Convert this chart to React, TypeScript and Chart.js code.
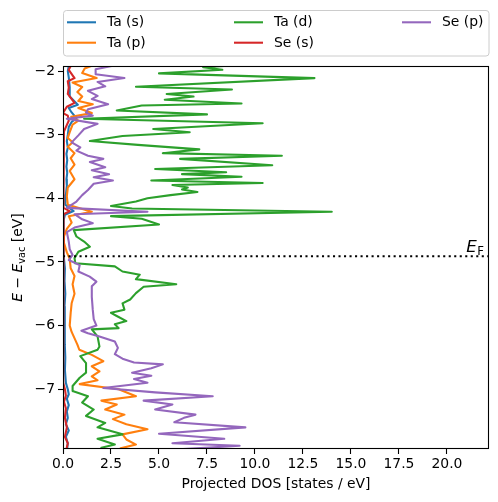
import React, { useEffect, useRef } from "react";
import { Chart, registerables } from "chart.js";

Chart.register(...registerables);

// ---- data (energy in eV, projected DOS in states/eV) ----
const taSEnergy = [-1.88, -1.92, -2.0, -2.1, -2.25, -2.4, -2.53, -2.58, -2.65, -2.74, -2.8, -2.88, -3.0, -3.1, -3.2, -3.3, -3.4, -3.5, -3.6, -3.7, -3.8, -3.95, -4.1, -4.2, -4.26, -4.35, -4.6, -4.9, -5.1, -5.3, -5.5, -5.7, -5.9, -6.1, -6.3, -6.5, -6.7, -6.9, -7.0, -7.08, -7.15, -7.25, -7.35, -7.45, -7.55, -7.65, -7.75, -7.85, -7.98];
const taSDos = [0.3, 0.3, 0.25, 0.3, 0.35, 0.35, 0.77, 0.3, 0.45, 0.7, 0.45, 0.3, 0.25, 0.2, 0.25, 0.18, 0.22, 0.18, 0.22, 0.18, 0.2, 0.15, 0.12, 0.55, 0.1, 0.03, 0.02, 0.05, 0.1, 0.08, 0.12, 0.08, 0.1, 0.08, 0.1, 0.12, 0.1, 0.15, 0.25, 0.3, 0.2, 0.3, 0.2, 0.25, 0.15, 0.3, 0.15, 0.25, 0.2];

const taPEnergy = [-1.88, -1.915, -1.96, -2.03, -2.11, -2.18, -2.25, -2.33, -2.4, -2.47, -2.52, -2.58, -2.66, -2.72, -2.78, -2.84, -2.96, -3.05, -3.12, -3.19, -3.29, -3.37, -3.47, -3.57, -3.7, -3.83, -3.97, -4.1, -4.21, -4.28, -4.38, -4.48, -4.6, -4.7, -4.85, -4.95, -5.1, -5.22, -5.35, -5.5, -5.65, -5.8, -6.0, -6.1, -6.3, -6.38, -6.46, -6.56, -6.64, -6.72, -6.8, -6.86, -6.92, -7.0, -7.11, -7.18, -7.24, -7.32, -7.4, -7.47, -7.55, -7.63, -7.71, -7.79, -7.87, -7.93, -7.98];
const taPDos = [1.3, 1.5, 1.13, 1.0, 1.75, 0.5, 1.0, 0.75, 1.0, 0.8, 1.55, 0.8, 1.5, 0.43, 0.8, 0.5, 0.35, 0.25, 0.5, 0.25, 0.6, 0.4, 0.6, 0.35, 0.6, 0.25, 0.2, 0.25, 1.5, 0.3, 0.45, 0.2, 0.05, 0.05, 0.2, 0.35, 0.4, 0.6, 0.5, 0.6, 0.45, 0.4, 0.35, 0.45, 0.75, 0.85, 1.5, 2.1, 1.5, 1.9, 1.5, 1.8, 0.87, 2.9, 3.8, 2.0, 2.8, 2.2, 3.2, 2.6, 3.3, 4.4, 3.1, 3.3, 3.8, 3.0, 3.5];

const taDEnergy = [-1.88, -1.915, -1.94, -1.98, -2.036, -2.11, -2.245, -2.29, -2.36, -2.4, -2.45, -2.51, -2.54, -2.62, -2.68, -2.75, -2.82, -2.91, -2.96, -3.02, -3.1, -3.16, -3.23, -3.29, -3.33, -3.38, -3.48, -3.54, -3.59, -3.62, -3.66, -3.72, -3.76, -3.79, -3.83, -3.86, -3.9, -3.95, -4.0, -4.05, -4.12, -4.16, -4.21, -4.28, -4.32, -4.41, -4.5, -4.6, -4.68, -4.76, -4.84, -4.94, -5.02, -5.07, -5.15, -5.2, -5.27, -5.35, -5.39, -5.49, -5.59, -5.65, -5.75, -5.8, -5.85, -5.93, -5.98, -6.04, -6.06, -6.17, -6.33, -6.38, -6.48, -6.59, -6.74, -6.82, -6.95, -7.03, -7.11, -7.21, -7.32, -7.42, -7.53, -7.6, -7.71, -7.78, -7.87, -7.92, -7.98];
const taDDos = [8.8, 8.6, 7.3, 8.3, 5.0, 13.1, 3.8, 8.8, 5.4, 6.8, 5.3, 9.3, 4.1, 2.8, 7.5, 1.1, 10.4, 4.7, 6.6, 3.1, 1.4, 3.9, 7.1, 5.2, 11.4, 6.1, 10.9, 4.8, 8.5, 6.2, 9.3, 4.6, 10.4, 5.7, 6.5, 6.2, 7.0, 5.6, 4.4, 3.8, 2.5, 3.6, 14.0, 2.5, 4.1, 5.0, 0.56, 0.7, 1.1, 1.4, 0.8, 0.6, 0.64, 2.7, 3.1, 4.0, 3.8, 5.9, 4.2, 3.8, 3.5, 3.1, 3.2, 2.5, 2.8, 3.3, 2.7, 2.9, 1.5, 1.8, 1.9, 1.8, 0.9, 1.2, 1.2, 0.87, 0.5, 0.5, 1.3, 1.0, 1.6, 1.2, 2.2, 1.8, 3.1, 1.8, 2.7, 2.0, 2.5];

const seSEnergy = [-1.88, -1.92, -1.98, -2.11, -2.16, -2.26, -2.36, -2.5, -2.56, -2.66, -2.7, -2.78, -2.88, -2.95, -3.1, -3.5, -4.0, -4.15, -4.2, -4.25, -4.5, -5.0, -6.0, -6.9, -7.0, -7.1, -7.2, -7.3, -7.45, -7.6, -7.75, -7.85, -7.98];
const seSDos = [0.4, 0.4, 0.3, 0.6, 0.25, 0.3, 0.25, 0.6, 0.2, 0.0, 0.25, 0.3, 0.15, 0.05, 0.03, 0.02, 0.02, 0.03, 0.35, 0.03, 0.01, 0.01, 0.01, 0.02, 0.1, 0.15, 0.05, 0.15, 0.1, 0.2, 0.1, 0.25, 0.15];

const sePEnergy = [-1.88, -1.915, -1.97, -2.05, -2.11, -2.17, -2.24, -2.31, -2.39, -2.44, -2.52, -2.6, -2.65, -2.7, -2.75, -2.83, -2.91, -3.01, -3.12, -3.2, -3.25, -3.33, -3.38, -3.43, -3.51, -3.56, -3.62, -3.67, -3.72, -3.77, -3.87, -3.95, -4.05, -4.15, -4.21, -4.25, -4.33, -4.39, -4.46, -4.53, -4.68, -4.8, -4.89, -4.97, -5.05, -5.15, -5.23, -5.31, -5.38, -5.55, -5.75, -5.9, -6.0, -6.08, -6.12, -6.17, -6.25, -6.35, -6.45, -6.52, -6.58, -6.61, -6.67, -6.74, -6.79, -6.84, -6.9, -6.98, -7.05, -7.11, -7.18, -7.24, -7.32, -7.4, -7.45, -7.52, -7.6, -7.7, -7.78, -7.85, -7.89, -7.95, -7.98];
const sePDos = [3.0, 2.6, 1.7, 1.7, 3.2, 1.8, 2.2, 1.3, 1.8, 1.5, 2.35, 1.3, 1.2, 1.55, 0.2, 1.8, 1.1, 0.8, 0.45, 0.9, 0.7, 1.3, 2.1, 1.4, 2.2, 1.5, 2.4, 1.6, 2.6, 1.6, 1.3, 1.0, 0.7, 0.2, 4.4, 0.6, 1.0, 1.55, 0.6, 0.2, 0.3, 0.35, 0.5, 0.3, 0.87, 0.8, 1.39, 1.74, 1.5, 1.5, 1.55, 1.6, 1.74, 0.96, 1.3, 1.9, 2.7, 2.86, 2.7, 3.1, 3.7, 5.2, 4.6, 3.6, 4.6, 3.7, 4.4, 2.1, 4.8, 7.8, 4.2, 5.7, 4.8, 6.9, 6.3, 5.8, 9.5, 5.0, 8.4, 5.7, 9.2, 5.8, 7.0];

const seriesLabels = ["Ta (s)", "Ta (p)", "Ta (d)", "Se (s)", "Se (p)"];
const seriesColors = ["#1f77b4", "#ff7f0e", "#2ca02c", "#d62728", "#9467bd"];
const seriesEnergies = [taSEnergy, taPEnergy, taDEnergy, seSEnergy, sePEnergy];
const seriesDos = [taSDos, taPDos, taDDos, seSDos, sePDos];

const fermiLevel = -4.91;
const xTicks = [0, 2.5, 5, 7.5, 10, 12.5, 15, 17.5, 20];
const yTicks = [-7, -6, -5, -4, -3, -2];
const xMin = 0;
const xMax = 22.19;
const yMin = -7.94;
const yMax = -1.92;

const FONT = "'DejaVu Sans', sans-serif";
const FS = 13.9;
const LW = 2.08;

const decorPlugin = {
  id: "decor",
  afterDraw(chart: any) {
    const ctx: CanvasRenderingContext2D = chart.ctx;
    const a = chart.chartArea;
    ctx.save();
    // spines
    ctx.strokeStyle = "#000";
    ctx.lineWidth = 1.1;
    const l = Math.round(a.left) + 0.5;
    const t = Math.round(a.top) + 0.5;
    const r = Math.round(a.right) - 0.5;
    const b = Math.round(a.bottom) - 0.5;
    ctx.strokeRect(l, t, r - l, b - t);

    // E_F label
    const yF = chart.scales.y.getPixelForValue(fermiLevel);
    ctx.fillStyle = "#000";
    ctx.textBaseline = "alphabetic";
    ctx.font = `italic 16.7px ${FONT}`;
    const wE = ctx.measureText("E").width;
    ctx.font = `11.7px ${FONT}`;
    const wF = ctx.measureText("F").width;
    const xEnd = a.right - 5;
    ctx.font = `italic 16.7px ${FONT}`;
    ctx.fillText("E", xEnd - wF - wE - 0.5, yF - 4);
    ctx.font = `11.7px ${FONT}`;
    ctx.fillText("F", xEnd - wF, yF - 1);

    // x axis title
    ctx.font = `${FS}px ${FONT}`;
    ctx.textAlign = "center";
    ctx.textBaseline = "middle";
    ctx.fillText("Projected DOS [states / eV]", (a.left + a.right) / 2, 484);

    // y axis title (rotated)
    ctx.save();
    ctx.translate(17, (a.top + a.bottom) / 2);
    ctx.rotate(-Math.PI / 2);
    ctx.textAlign = "left";
    ctx.textBaseline = "alphabetic";
    const segs = [
      { t: "E", f: `italic ${FS}px ${FONT}`, dy: 0 },
      { t: " \u2212 ", f: `${FS}px ${FONT}`, dy: 0 },
      { t: "E", f: `italic ${FS}px ${FONT}`, dy: 0 },
      { t: "vac", f: `9.7px ${FONT}`, dy: 3 },
      { t: " [eV]", f: `${FS}px ${FONT}`, dy: 0 },
    ];
    let total = 0;
    const widths = segs.map((s) => {
      ctx.font = s.f;
      const w = ctx.measureText(s.t).width;
      total += w;
      return w;
    });
    let cx = -total / 2;
    segs.forEach((s, i) => {
      ctx.font = s.f;
      ctx.fillText(s.t, cx, 5 + s.dy);
      cx += widths[i];
    });
    ctx.restore();

    // legend (column-major, 3 columns)
    ctx.beginPath();
    ctx.roundRect(63.5, 10.5, 425.5, 45.5, 3);
    ctx.fillStyle = "rgba(255,255,255,0.8)";
    ctx.fill();
    ctx.strokeStyle = "#cccccc";
    ctx.lineWidth = 1;
    ctx.stroke();
    const colX = [67, 234, 402];
    const rowY = [22.3, 42.7];
    ctx.font = `${FS}px ${FONT}`;
    ctx.textBaseline = "middle";
    ctx.textAlign = "left";
    seriesLabels.forEach((lab, i) => {
      const col = Math.floor(i / 2);
      const row = i % 2;
      const x0 = colX[col];
      const y0 = rowY[row];
      ctx.strokeStyle = seriesColors[i];
      ctx.lineWidth = LW;
      ctx.beginPath();
      ctx.moveTo(x0, y0);
      ctx.lineTo(x0 + 29, y0);
      ctx.stroke();
      ctx.fillStyle = "#000";
      ctx.fillText(lab, x0 + 40, y0 + 0.5);
    });
    ctx.restore();
  },
};

export default function App() {
  const ref = useRef<HTMLCanvasElement>(null);
  useEffect(() => {
    document.body.style.margin = "0";
    const datasets: any[] = seriesLabels.map((lab, i) => ({
      label: lab,
      data: seriesEnergies[i].map((e, k) => ({ x: seriesDos[i][k], y: e })),
      showLine: true,
      borderColor: seriesColors[i],
      backgroundColor: seriesColors[i],
      borderWidth: LW,
      borderJoinStyle: "round",
      borderCapStyle: "round",
      pointRadius: 0,
      tension: 0,
      fill: false,
      clip: 0,
      order: 5 - i,
    }));
    datasets.push({
      label: "E_F",
      data: [
        { x: xMin, y: fermiLevel },
        { x: xMax, y: fermiLevel },
      ],
      showLine: true,
      borderColor: "#000",
      borderWidth: LW,
      borderDash: [2.08, 3.43],
      pointRadius: 0,
      fill: false,
      clip: 0,
      order: 0,
    });
    const chart = new Chart(ref.current as HTMLCanvasElement, {
      type: "scatter",
      data: { datasets },
      options: {
        animation: false,
        responsive: false,
        devicePixelRatio: 1,
        events: [],
        layout: { padding: { left: 8, right: 9, top: 66, bottom: 0 } },
        plugins: {
          legend: { display: false },
          tooltip: { enabled: false },
          title: { display: false },
        },
        scales: {
          x: {
            type: "linear",
            min: xMin,
            max: xMax,
            afterBuildTicks: (s: any) => {
              s.ticks = xTicks.map((v) => ({ value: v }));
            },
            afterFit: (s: any) => {
              s.height = 53;
            },
            border: { display: false },
            grid: { drawOnChartArea: false, drawTicks: true, tickLength: 5, color: "#000", tickWidth: 1.1 },
            ticks: {
              color: "#000",
              font: { family: FONT, size: FS },
              padding: 2,
              maxRotation: 0,
              autoSkip: false,
              callback: (v: any) => Number(v).toFixed(1),
            },
          },
          y: {
            type: "linear",
            min: yMin,
            max: yMax,
            afterBuildTicks: (s: any) => {
              s.ticks = yTicks.map((v) => ({ value: v }));
            },
            afterFit: (s: any) => {
              s.width = 55;
            },
            border: { display: false },
            grid: { drawOnChartArea: false, drawTicks: true, tickLength: 5, color: "#000", tickWidth: 1.1 },
            ticks: {
              color: "#000",
              font: { family: FONT, size: FS },
              padding: 3,
              autoSkip: false,
              callback: (v: any) => String(v).replace("-", "\u2212"),
            },
          },
        },
      },
      plugins: [decorPlugin],
    } as any);
    return () => chart.destroy();
  }, []);
  return (
    <div style={{ position: "relative", width: 498, height: 502 }}>
      <canvas ref={ref} width={498} height={502} style={{ display: "block", width: 498, height: 502 }} />
    </div>
  );
}
